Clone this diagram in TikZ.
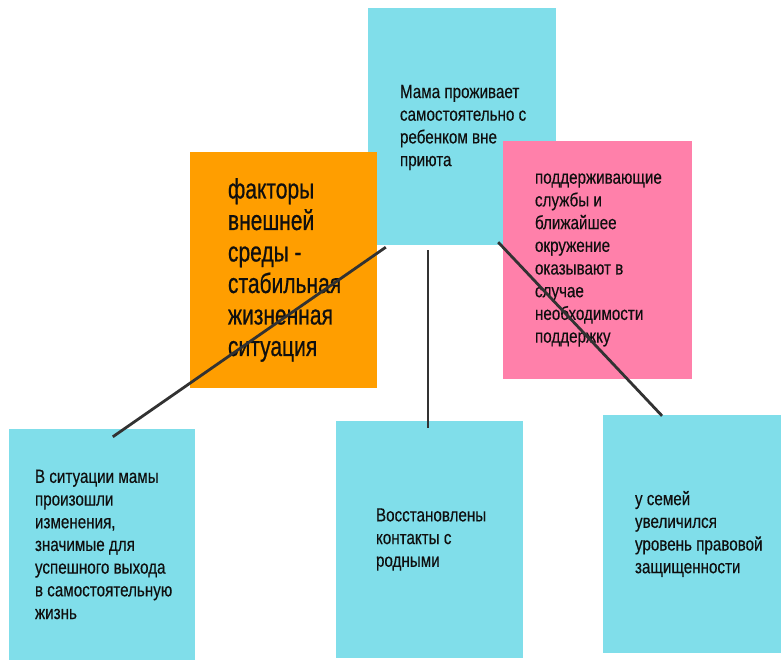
\documentclass[tikz,border=0pt]{standalone}
\usepackage{fontspec}
\setmainfont{Liberation Sans}[FakeStretch=0.8,FakeBold=0.3]
\newfontfamily\bigfont{Liberation Sans}[FakeStretch=0.75,FakeBold=0.6]
\definecolor{cy}{RGB}{128,222,234}
\definecolor{og}{RGB}{255,158,0}
\definecolor{pk}{RGB}{255,128,170}
\definecolor{ln}{RGB}{50,50,50}
\definecolor{tx}{RGB}{15,15,15}
\tikzset{
  card/.style={rectangle, draw=none, inner sep=0pt},
  cardtext/.style={anchor=west, inner sep=0pt, align=left, text=tx,
    font=\fontsize{19}{22.7}\selectfont},
  bigtext/.style={anchor=west, inner sep=0pt, align=left, text=tx,
    font=\bigfont\fontsize{28}{31.5}\selectfont},
  link/.style={draw=ln, line width=2.8pt}
}
\begin{document}
\begin{tikzpicture}[x=1pt,y=-1pt]
\useasboundingbox (0,0) rectangle (781,661);
% boxes
\node[card, fill=cy, minimum width=188pt, minimum height=237pt] (top) at (462,126.5) {};
\node[card, fill=pk, minimum width=189pt, minimum height=238pt] (pink) at (597.5,260) {};
\node[card, fill=og, minimum width=187pt, minimum height=236pt] (orange) at (283.5,270) {};
\node[card, fill=cy, minimum width=186pt, minimum height=231pt] (bl) at (102,544.5) {};
\node[card, fill=cy, minimum width=187pt, minimum height=237pt] (bm) at (429.5,539.5) {};
\node[card, fill=cy, minimum width=178pt, minimum height=238pt] (br) at (692,534) {};
% texts
\node[cardtext] (ttop) at ([xshift=32pt,yshift=-1pt]top.west) {Мама проживает\\самостоятельно с\\ребенком вне\\приюта};
\node[cardtext] (tpink) at ([xshift=32pt]pink.west) {поддерживающие\\службы и\\ближайшее\\окружение\\оказывают в\\случае\\необходимости\\поддержку};
\node[bigtext] (torange) at ([xshift=38pt]orange.west) {факторы\\внешней\\среды -\\стабильная\\жизненная\\ситуация};
\node[cardtext] (tbl) at ([xshift=26pt]bl.west) {В ситуации мамы\\произошли\\изменения,\\значимые для\\успешного выхода\\в самостоятельную\\жизнь};
\node[cardtext] (tbm) at ([xshift=40pt]bm.west) {Восстановлены\\контакты с\\родными};
\node[cardtext] (tbr) at ([xshift=32pt]br.west) {у семей\\увеличился\\уровень правовой\\защищенности};
% connectors
\coordinate (a1) at ([shift={(18,2)}]top.south west);
\coordinate (a2) at ([shift={(104,8)}]bl.north west);
\coordinate (b1) at ([shift={(-34,5)}]top.south);
\coordinate (b2) at ([shift={(-1.5,7)}]bm.north);
\coordinate (c1) at ([shift={(-58,-3)}]top.south east);
\coordinate (c2) at ([shift={(-30,1)}]br.north);
\draw[link] (a1) -- (a2);
\draw[link] (b1) -- (b2);
\draw[link] (c1) -- (c2);
\end{tikzpicture}
\end{document}
